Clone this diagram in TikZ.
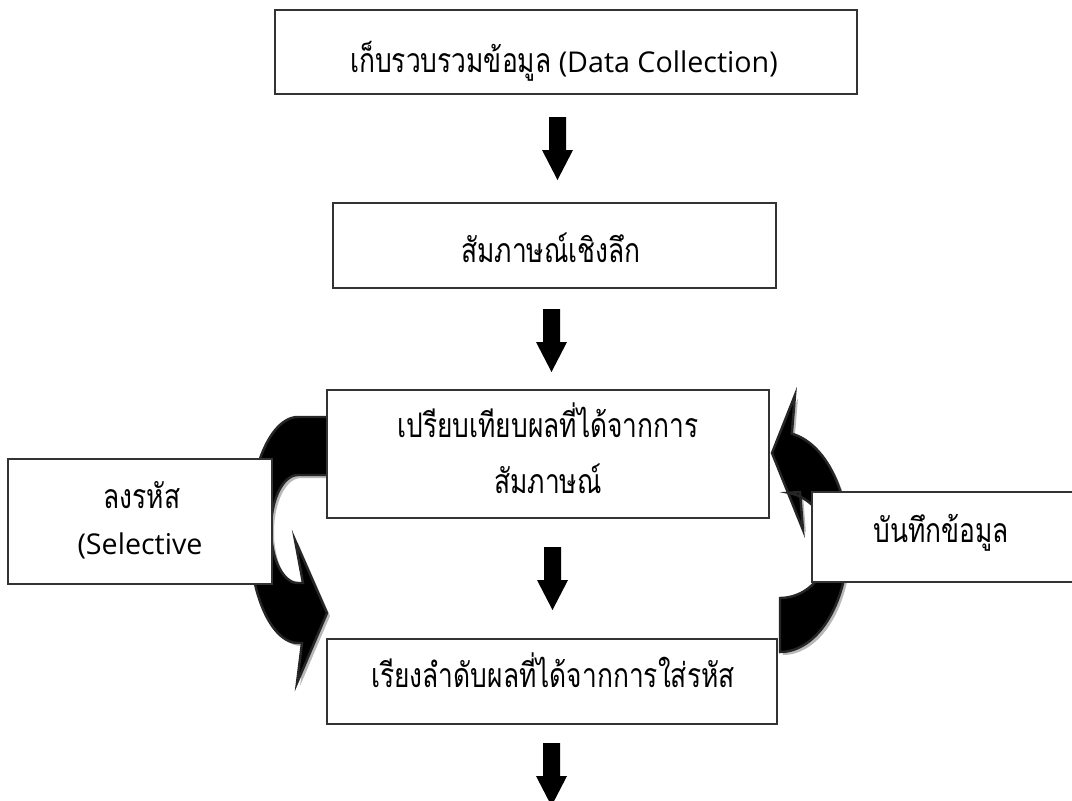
\documentclass[tikz,border=0pt]{standalone}
\usepackage{fontspec}
\setmainfont{Open Sans}
\newfontfamily\thai[Script=Thai,Scale=1.18,FakeStretch=0.78]{Loma}
\usetikzlibrary{fit}
\newcommand\leftcurve{(330,417) -- (298,417) -- plot[domain=90:270,samples=60,variable=\ang] ({298+49*cos(\ang)},{530-113*sin(\ang)}) -- (302,643) -- (297,683) -- (327,613) -- (295,540) -- (303,583) -- (298,583) -- plot[domain=270:90,samples=60,variable=\ang] ({298+27*cos(\ang)},{529-54*sin(\ang)}) -- (330,475) -- cycle}
\newcommand\rightcurve{(780,598) -- (780,652) -- plot[domain=-90:80,samples=60,variable=\ang] ({780+68*cos(\ang)},{542-110*sin(\ang)}) -- (795,395) -- (772,453) -- (803,530) -- (800,492) -- plot[domain=80:-90,samples=60,variable=\ang] ({780+49*cos(\ang)},{545-53*sin(\ang)}) -- cycle}
\begin{document}
\begin{tikzpicture}[x=0.02cm,y=-0.02cm,
  box/.style={draw=black!80, line width=0.7pt, fill=white, inner sep=0pt},
  txt/.style={anchor=base, inner sep=0pt, font=\fontsize{16.3}{20}\selectfont},
  blockarrow/.pic={\fill[black] (-8.5,0) -- (8.5,0) -- (8.5,33) -- (15.5,33) -- (0,63) -- (-15.5,33) -- (-8.5,33) -- cycle;},
  curvebody/.style={fill=black, draw=black!85, line width=1.4pt, line join=miter},
  curveshadow/.style={fill=black!28, draw=none, shift={(3,3)}}]
\useasboundingbox (0,0) rectangle (1072,801);
% curved arrows (behind boxes)
\fill[curveshadow] \leftcurve;
\filldraw[curvebody] \leftcurve;
\fill[curveshadow] \rightcurve;
\filldraw[curvebody] \rightcurve;
% boxes
\node[box, fit={(275,10) (857,94)}] (collect) {};
\node[box, fit={(333,203) (776,288)}] (interview) {};
\node[box, fit={(327,390) (769,518)}] (compare) {};
\node[box, fit={(327,639) (777,724)}] (sort) {};
\node[box, fit={(8,459) (272,584)}] (code) {};
\node[box, fit={(812,492) (1074,582)}] (record) {};
% texts
\node[txt] (collect-t) at (564,72) {{\thai เก็บรวบรวมข้อมูล} (Data Collection)};
\node[txt] (interview-t) at (551,262) {\thai สัมภาษณ์เชิงลึก};
\node[txt] (compare-t1) at (548,437) {\thai เปรียบเทียบผลที่ได้จากการ};
\node[txt] (compare-t2) at (548,493) {\thai สัมภาษณ์};
\node[txt] (sort-t) at (553,687) {\thai เรียงลำดับผลที่ได้จากการใส่รหัส};
\node[txt] (code-t1) at (142,508) {\thai ลงรหัส};
\node[txt] (code-t2) at (140,554) {(Selective};
\node[txt] (record-t) at (941,542) {\thai บันทึกข้อมูล};
% straight block arrows
\pic at (557.5,117) {blockarrow};
\pic at (551.5,309) {blockarrow};
\pic at (552.5,547) {blockarrow};
\pic at (551.5,743) {blockarrow};
\end{tikzpicture}
\end{document}
